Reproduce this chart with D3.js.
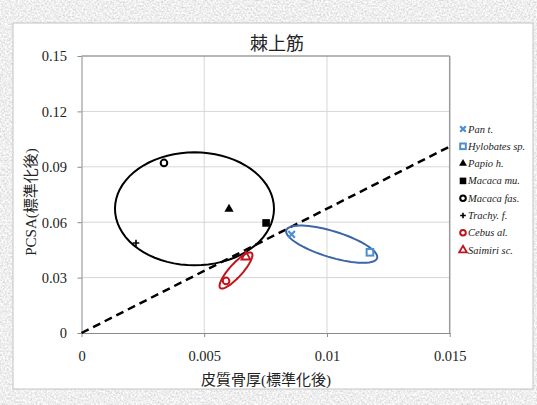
<!DOCTYPE html>
<html>
<head>
<meta charset="utf-8">
<script src="https://cdn.jsdelivr.net/npm/d3@7/dist/d3.min.js"></script>
<style>
  html, body { margin: 0; padding: 0; background: #dcdcdc; }
  svg { display: block; }
</style>
</head>
<body>
<svg id="chart" width="537" height="405"></svg>
<script>
// ---- data ----
const title = "棘上筋";
const xAxisTitle = "皮質骨厚(標準化後)";
const yAxisTitle = "PCSA(標準化後)";

const species = ["Pan t.", "Hylobates sp.", "Papio h.", "Macaca mu.", "Macaca fas.", "Trachy. f.", "Cebus al.", "Saimiri sc."];
const xValues = [0.00856, 0.01175, 0.00601, 0.00752, 0.00336, 0.00222, 0.00589, 0.00670];
const yValues = [0.0534, 0.0437, 0.0671, 0.0596, 0.0921, 0.0487, 0.0282, 0.0412];
const markerShapes = ["x", "squareOpen", "triangle", "square", "circleOpen", "plus", "circleOpen", "triangleOpen"];
const markerColors = ["#4a8fd6", "#4a8fd6", "#000000", "#000000", "#000000", "#000000", "#c0141c", "#c0141c"];

const xTicks = [0, 0.005, 0.01, 0.015];
const xTickLabels = ["0", "0.005", "0.01", "0.015"];
const yTicks = [0, 0.03, 0.06, 0.09, 0.12, 0.15];
const yTickLabels = ["0", "0.03", "0.06", "0.09", "0.12", "0.15"];

// dashed reference line (data endpoints)
const refLineX = [0, 0.015];
const refLineY = [0, 0.101];

// group ellipses: centre and two conjugate semi-axis vectors, all in data units
const ellipseNames = ["black", "red", "blue"];
const ellipseCenters = [[0.004603, 0.06726], [0.006294, 0.03384], [0.010193, 0.04809]];
const ellipseAxisU = [[0.003239, 0], [0.000641, 0.00946], [0.001850, -0.00753]];
const ellipseAxisV = [[0, 0.0306], [0.000197, -0.00236], [-0.000155, -0.00673]];
const ellipseColors = ["#000000", "#c0141c", "#3d66a6"];

// ---- layout ----
const svg = d3.select("#chart");
const W = 537, H = 405;
const x = d3.scaleLinear().domain([0, 0.015]).range([81.5, 449.7]);
const y = d3.scaleLinear().domain([0, 0.15]).range([333, 56]);

const serif = "'Liberation Serif', 'Noto Sans CJK JP', serif";

// grainy stone background
const defs = svg.append("defs");
const f = defs.append("filter").attr("id", "grain")
  .attr("x", 0).attr("y", 0).attr("width", "100%").attr("height", "100%");
f.append("feTurbulence").attr("type", "fractalNoise")
  .attr("baseFrequency", 0.55).attr("numOctaves", 3).attr("seed", 7).attr("result", "n");
f.append("feColorMatrix").attr("in", "n").attr("type", "matrix")
  .attr("values", "0.6 0 0 0 0.56  0.6 0 0 0 0.56  0.6 0 0 0 0.56  0 0 0 0 1");
svg.append("rect").attr("width", W).attr("height", H).attr("filter", "url(#grain)");

// white chart panel
svg.append("rect").attr("x", 13).attr("y", 23).attr("width", 520).attr("height", 366)
  .attr("fill", "#ffffff").attr("stroke", "#c4c4c4").attr("stroke-width", 1);

// gridlines
const grid = svg.append("g");
grid.selectAll("line.gx").data(xTicks.slice(1, -1)).join("line")
  .attr("x1", d => x(d)).attr("x2", d => x(d)).attr("y1", y(0)).attr("y2", y(0.15))
  .attr("stroke", "#d6d6d6").attr("stroke-width", 1);
grid.selectAll("line.gy").data(yTicks.slice(1, -1)).join("line")
  .attr("x1", x(0)).attr("x2", x(0.015)).attr("y1", d => y(d)).attr("y2", d => y(d))
  .attr("stroke", "#d6d6d6").attr("stroke-width", 1);

// plot area frame (top and right)
svg.append("line").attr("x1", x(0)).attr("x2", x(0.015)).attr("y1", y(0.15)).attr("y2", y(0.15))
  .attr("stroke", "#6e6e6e").attr("stroke-width", 1.2);
svg.append("line").attr("x1", x(0.015)).attr("x2", x(0.015)).attr("y1", y(0.15)).attr("y2", y(0))
  .attr("stroke", "#9a9a9a").attr("stroke-width", 1.5);

// axes
const xAxis = svg.append("g").attr("transform", `translate(0,${y(0)})`)
  .call(d3.axisBottom(x).tickValues(xTicks).tickSize(4).tickSizeOuter(0)
    .tickFormat((d, i) => xTickLabels[i]));
const yAxis = svg.append("g").attr("transform", `translate(${x(0)},0)`)
  .call(d3.axisLeft(y).tickValues(yTicks).tickSize(4).tickSizeOuter(0)
    .tickFormat((d, i) => yTickLabels[i]));
[xAxis, yAxis].forEach(a => {
  a.attr("font-family", serif);
  a.select(".domain").attr("stroke", "#8a8a8a").attr("stroke-width", 1);
  a.selectAll(".tick line").attr("stroke", "#8a8a8a");
  a.selectAll("text").attr("font-family", serif).attr("font-size", 14.5).attr("fill", "#222");
});
xAxis.selectAll("text").attr("y", 14).attr("dy", "0.95em");
yAxis.selectAll("text").attr("x", -14.5).attr("dy", "0.34em");

// titles
svg.append("text").attr("x", 277).attr("y", 50).attr("text-anchor", "middle")
  .attr("font-family", serif).attr("font-size", 18).attr("fill", "#222").text(title);
svg.append("text").attr("x", 266).attr("y", 385).attr("text-anchor", "middle")
  .attr("font-family", serif).attr("font-size", 15).attr("fill", "#222").text(xAxisTitle);
svg.append("text").attr("transform", "translate(36,202) rotate(-90)").attr("text-anchor", "middle")
  .attr("font-family", serif).attr("font-size", 15).attr("fill", "#222").text(yAxisTitle);

// dashed reference line
svg.append("path")
  .attr("d", d3.line()(refLineX.map((d, i) => [x(d), y(refLineY[i])])))
  .attr("stroke", "#000").attr("stroke-width", 2.5).attr("stroke-dasharray", "8,5")
  .attr("fill", "none");

// group ellipses, traced in data space then mapped through the scales
const steps = d3.range(0, 73);
ellipseNames.forEach((name, k) => {
  const [cx, cy] = ellipseCenters[k];
  const u = ellipseAxisU[k], v = ellipseAxisV[k];
  const pts = steps.map(s => {
    const t = s / 72 * 2 * Math.PI;
    return [x(cx + u[0] * Math.cos(t) + v[0] * Math.sin(t)),
            y(cy + u[1] * Math.cos(t) + v[1] * Math.sin(t))];
  });
  svg.append("path").attr("class", "ellipse-" + name)
    .attr("d", d3.line().curve(d3.curveLinearClosed)(pts))
    .attr("fill", "none").attr("stroke", ellipseColors[k]).attr("stroke-width", 2);
});

// marker drawing
function drawMarker(g, shape, color, s) {
  switch (shape) {
    case "x":
      g.append("path").attr("d", `M${-s},${-s}L${s},${s}M${s},${-s}L${-s},${s}`)
        .attr("stroke", color).attr("stroke-width", 2.2).attr("fill", "none");
      break;
    case "squareOpen":
      g.append("rect").attr("x", -s).attr("y", -s).attr("width", 2 * s).attr("height", 2 * s)
        .attr("fill", "none").attr("stroke", color).attr("stroke-width", 2);
      break;
    case "square":
      g.append("rect").attr("x", -s - 0.5).attr("y", -s - 0.5).attr("width", 2 * s + 1).attr("height", 2 * s + 1)
        .attr("fill", color);
      break;
    case "triangle":
      g.append("path").attr("d", d3.symbol(d3.symbolTriangle, s * s * 3.4)()).attr("fill", color);
      break;
    case "triangleOpen":
      g.append("path").attr("d", d3.symbol(d3.symbolTriangle, s * s * 3.2)())
        .attr("fill", "none").attr("stroke", color).attr("stroke-width", 1.8);
      break;
    case "circleOpen":
      g.append("circle").attr("r", s).attr("fill", "none").attr("stroke", color).attr("stroke-width", 2);
      break;
    case "plus":
      g.append("path").attr("d", `M${-s},0L${s},0M0,${-s}L0,${s}`)
        .attr("stroke", color).attr("stroke-width", 1.6).attr("fill", "none");
      break;
  }
}

// data points
species.forEach((name, i) => {
  const g = svg.append("g").attr("transform", `translate(${x(xValues[i])},${y(yValues[i])})`);
  drawMarker(g, markerShapes[i], markerColors[i], 3.3);
});

// legend
const legend = svg.append("g").attr("transform", "translate(463,129)");
species.forEach((name, i) => {
  const g = legend.append("g").attr("transform", `translate(0,${i * 17.3})`);
  drawMarker(g.append("g"), markerShapes[i], markerColors[i], 2.8);
  g.append("text").attr("x", 5).attr("y", 0).attr("dy", "0.34em")
    .attr("font-family", serif).attr("font-style", "italic").attr("font-size", 10.5)
    .attr("fill", "#222").text(name);
});
</script>
</body>
</html>
